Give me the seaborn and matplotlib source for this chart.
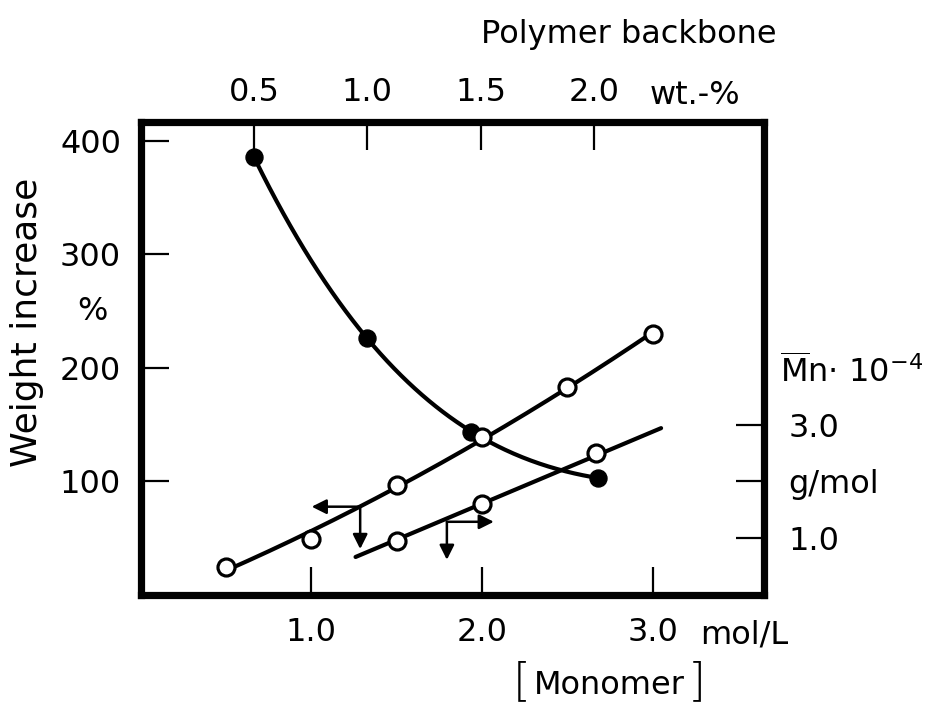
import numpy as np
import matplotlib
matplotlib.use("Agg")
import matplotlib.pyplot as plt
import seaborn as sns

# ---------------- data ----------------
monomer_open = [0.5, 1.0, 1.5, 2.0, 2.5, 3.0]            # mol/L
weight_increase_open = [25, 49, 97, 139, 183, 230]        # %

polymer_wt = [0.5, 1.0, 1.46, 2.02]                       # wt.-%
weight_increase_filled = [386, 226, 144, 103]             # %

monomer_mn = [1.5, 2.0, 2.67]                             # mol/L
mn_values = [0.96, 1.60, 2.50]                            # Mn * 1e-4 g/mol
mn_line_x = [1.26, 3.05]
mn_line_y = [0.67, 2.94]

bottom_ticks = [1.0, 2.0, 3.0]
bottom_labels = ["1.0", "2.0", "3.0"]
top_ticks = [0.5, 1.0, 1.5, 2.0]
top_labels = ["0.5", "1.0", "1.5", "2.0"]
left_ticks = [100, 200, 300, 400]
left_labels = ["100", "200", "300", "400"]
right_ticks = [1.0, 2.0, 3.0]
right_labels = ["1.0", "g/mol", "3.0"]

# ---------------- style ----------------
sns.set_theme(style="ticks")
plt.rcParams["font.family"] = ["DejaVu Sans"]
plt.rcParams["mathtext.fontset"] = "dejavusans"
FS = 23
W, H = 934, 706

fig = plt.figure(figsize=(W / 100, H / 100), dpi=100)
fig.patch.set_facecolor("white")
L, R, T, B = 140.5, 763.5, 122, 595
ax = fig.add_axes([L / W, 1 - B / H, (R - L) / W, (B - T) / H])
ax_r = ax.twinx()
ax_t = ax.twiny()

ax.set_xlim(0, 3.65)
ax.set_ylim(0, 416.7)
ax_r.set_ylim(0, 416.7 / 50)
ax_t.set_xlim(0, 2.748)

# draw order: right axis (Mn), top axis (filled), main axis (open)
ax_r.set_zorder(1)
ax_t.set_zorder(2)
ax.set_zorder(3)
for a in (ax, ax_r, ax_t):
    a.patch.set_visible(False)

LW = 3.0
MS = 150

# Mn line (right axis)
sns.lineplot(x=mn_line_x, y=mn_line_y, ax=ax_r, color="black", lw=LW, legend=False)
sns.scatterplot(x=monomer_mn, y=mn_values, ax=ax_r, marker="o", s=MS,
                facecolor="white", edgecolor="black", linewidth=2.3, zorder=5, legend=False)

# weight increase vs polymer backbone (top axis), smooth curve
cf = np.polyfit(polymer_wt, weight_increase_filled, 3)
xs = np.linspace(min(polymer_wt), max(polymer_wt), 200)
sns.lineplot(x=xs, y=np.polyval(cf, xs), ax=ax_t, color="black", lw=LW, legend=False)
sns.scatterplot(x=polymer_wt, y=weight_increase_filled, ax=ax_t, marker="o", s=MS,
                color="black", edgecolor="black", zorder=5, legend=False)

# weight increase vs monomer (main axis)
cw = np.polyfit(monomer_open, weight_increase_open, 2)
xw = np.linspace(min(monomer_open), max(monomer_open), 200)
sns.lineplot(x=xw, y=np.polyval(cw, xw), ax=ax, color="black", lw=LW, legend=False)
sns.scatterplot(x=monomer_open, y=weight_increase_open, ax=ax, marker="o", s=MS,
                facecolor="white", edgecolor="black", linewidth=2.3, zorder=5, legend=False)

# arrows indicating axes
ap = dict(arrowstyle="-|>", color="black", lw=1.8, mutation_scale=22, shrinkA=0, shrinkB=0)
ax.annotate("", xy=(1.003, 77.8), xytext=(1.287, 77.8), arrowprops=ap)
ax.annotate("", xy=(1.287, 40.5), xytext=(1.287, 77.8), arrowprops=ap)
ax_r.annotate("", xy=(2.07, 1.29), xytext=(1.795, 1.29), arrowprops=ap)
ax_r.annotate("", xy=(1.795, 0.62), xytext=(1.795, 1.29), arrowprops=ap)

# ticks
tkw = dict(direction="in", length=20, width=1.6, labelsize=FS, color="black", labelcolor="black")
ax.set_xticks(bottom_ticks, bottom_labels)
ax.set_yticks(left_ticks, left_labels)
ax.tick_params(axis="x", bottom=True, top=False, pad=16, **tkw)
ax.tick_params(axis="y", left=True, right=False, pad=14, **tkw)
ax_r.set_yticks(right_ticks, right_labels)
ax_r.tick_params(axis="y", right=True, left=False, labelright=True, labelleft=False, pad=18, **tkw)
ax_t.set_xticks(top_ticks, top_labels)
ax_t.tick_params(axis="x", top=True, bottom=False, labeltop=True, labelbottom=False, pad=10, **tkw)
ax.minorticks_off()

for s in ax.spines.values():
    s.set_linewidth(5.2)
    s.set_color("black")
    s.set_visible(True)
for a in (ax_r, ax_t):
    for s in a.spines.values():
        s.set_visible(False)

ax.set_xlabel("")
ax.set_ylabel("")
ax_r.set_ylabel("")
ax_t.set_xlabel("")

def ftext(x, y, s, **kw):
    fig.text(x / W, 1 - y / H, s, fontsize=kw.pop("fontsize", FS), color="black", **kw)

ftext(629, 35, "Polymer backbone", ha="center", va="center")
ftext(650, 95, "wt.-%", ha="left", va="center")
ftext(27, 322, "Weight increase", ha="center", va="center", rotation=90, fontsize=26)
ftext(92, 312, "%", ha="center", va="center")
ftext(700, 635, "mol/L", ha="left", va="center")
ftext(522, 682, "[", ha="center", va="center", fontsize=33, fontweight="light")
ftext(609, 685, "Monomer", ha="center", va="center")
ftext(697, 682, "]", ha="center", va="center", fontsize=33, fontweight="light")
ftext(780, 372, r"$\overline{\mathrm{M}}$n$\cdot$ 10$^{-4}$", ha="left", va="center")

fig.savefig("out.png", dpi=100, facecolor="white")
